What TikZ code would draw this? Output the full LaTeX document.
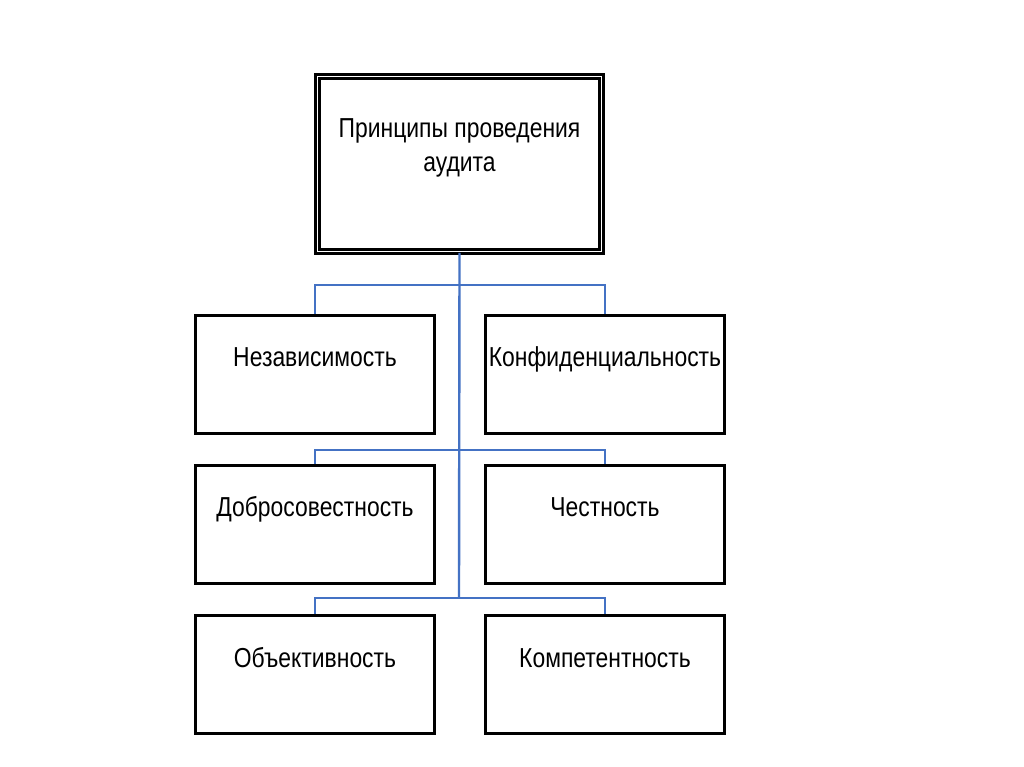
\documentclass[tikz,border=0pt]{standalone}
\usepackage{fontspec}
\setmainfont{Liberation Sans}[FakeStretch=0.835]
\usetikzlibrary{positioning}

\definecolor{linkblue}{RGB}{68,114,196}

\tikzset{
  princbox/.style = {draw, line width=2pt, minimum width=5.975cm, minimum height=2.95cm},
  topbox/.style = {draw, line width=1.9pt, double, double distance=1.3pt,
                   minimum width=7.1cm, minimum height=4.375cm},
  label text/.style = {font=\fontsize{19.5}{24.8}\selectfont, align=center, anchor=base},
  link/.style = {draw=linkblue, line width=1.7pt}
}

\begin{document}
\begin{tikzpicture}[%
        x = 0.025cm, y = -0.025cm
    ]
      \fill [white] (0,0) rectangle (1024,767);
      \useasboundingbox (0,0) rectangle (1024,767);

      % boxes
      \node [topbox] (top) at (459.5,164) {};
      \node [princbox] (nez) at (315,374.5) {};
      \node [princbox] (konf) at (605,374.5) {};
      \node [princbox] (dobr) at (315,524.5) {};
      \node [princbox] (chest) at (605,524.5) {};
      \node [princbox] (obj) at (315,674.5) {};
      \node [princbox] (komp) at (605,674.5) {};

      % texts (base = last line)
      \node [label text] (ttop) at (459.5,172) {Принципы проведения\\аудита};
      \node [label text] (tnez) at (315,366) {Независимость};
      \node [label text] (tkonf) at (605,366) {Конфиденциальность};
      \node [label text] (tdobr) at (315,516) {Добросовестность};
      \node [label text] (tchest) at (605,516) {Честность};
      \node [label text] (tobj) at (315,667) {Объективность};
      \node [label text] (tkomp) at (605,667) {Компетентность};

      % connectors
      \coordinate (j1) at (459,285);
      \coordinate (j2) at (459,450);
      \coordinate (j3) at (459,598);
      \draw [link] (top.south) -- (j3);
      \draw [link] (nez.north) |- (j1) -| (konf.north);
      \draw [link] (dobr.north) |- (j2) -| (chest.north);
      \draw [link] (obj.north) |- (j3) -| (komp.north);
    \end{tikzpicture}
\end{document}
